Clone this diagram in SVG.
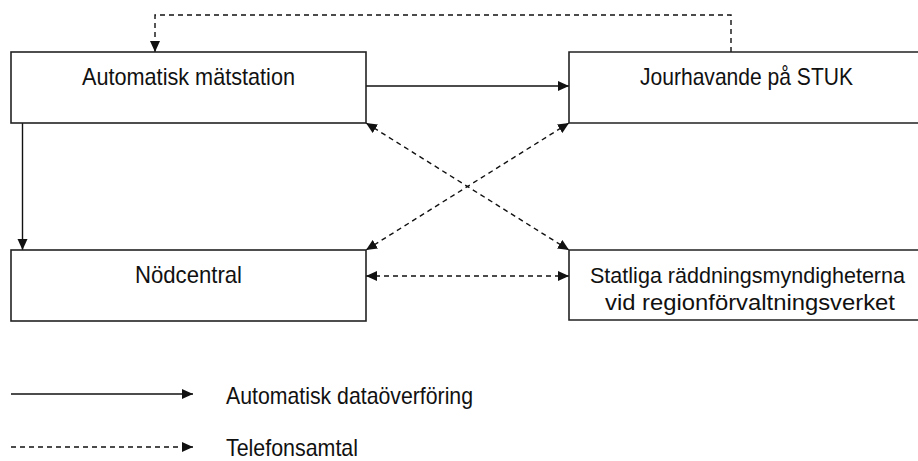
<svg xmlns="http://www.w3.org/2000/svg" width="918" height="461" viewBox="0 0 918 461">
  <style>
    .box { fill: #fff; stroke: #222; stroke-width: 1.6; }
    .fill { fill: #fff; stroke: none; }
    .edge { fill: none; stroke: #222; stroke-width: 1.6; }
    .lbl { font-family: "Liberation Sans", Arial, sans-serif; font-size: 24px; fill: #111; }
    .lbl2 { font-family: "Liberation Sans", Arial, sans-serif; font-size: 22px; fill: #111; }
    .solid { fill: none; stroke: #111; stroke-width: 1.4; }
    .dash { fill: none; stroke: #111; stroke-width: 1.4; stroke-dasharray: 5 4; }
  </style>
  <defs>
    <marker id="ah" markerUnits="userSpaceOnUse" markerWidth="11" markerHeight="11" viewBox="0 0 11 11" refX="11" refY="5.5" orient="auto-start-reverse">
      <path d="M0,0.5 L11,5.5 L0,10.5 z" fill="#111"/>
    </marker>
  </defs>
  <rect width="918" height="461" fill="#fff"/>

  <g id="connectors">
    <path class="dash" d="M731,52 V15 H155 V52" marker-end="url(#ah)"/>
    <path class="solid" d="M366,86 H569" marker-end="url(#ah)"/>
    <path class="solid" d="M22.5,123 V250" marker-end="url(#ah)"/>
    <path class="dash" d="M366,123 L569,250" marker-start="url(#ah)" marker-end="url(#ah)"/>
    <path class="dash" d="M569,123 L366,250" marker-start="url(#ah)" marker-end="url(#ah)"/>
    <path class="dash" d="M366,276 H569" marker-start="url(#ah)" marker-end="url(#ah)"/>
  </g>

  <g id="node-matstation">
    <rect class="box" x="11" y="52" width="355" height="71"/>
    <text class="lbl" x="82" y="85" textLength="213" lengthAdjust="spacingAndGlyphs">Automatisk mätstation</text>
  </g>
  <g id="node-jourhavande">
    <rect class="fill" x="569" y="52" width="349" height="71"/>
    <path class="edge" d="M918,52 H569 V123 H918"/>
    <text class="lbl" x="640" y="85" textLength="213" lengthAdjust="spacingAndGlyphs">Jourhavande på STUK</text>
  </g>
  <g id="node-nodcentral">
    <rect class="box" x="11" y="250" width="355" height="71"/>
    <text class="lbl" x="135" y="283" textLength="107" lengthAdjust="spacingAndGlyphs">Nödcentral</text>
  </g>
  <g id="node-statliga">
    <rect class="fill" x="569" y="250" width="349" height="70"/>
    <path class="edge" d="M918,250 H569 V320 H918"/>
    <text class="lbl2" x="590" y="283" textLength="315" lengthAdjust="spacingAndGlyphs">Statliga räddningsmyndigheterna</text>
    <text class="lbl2" x="605" y="310" textLength="290" lengthAdjust="spacingAndGlyphs">vid regionförvaltningsverket</text>
  </g>

  <g id="legend">
    <path class="solid" d="M11,394 H193" marker-end="url(#ah)"/>
    <text class="lbl" x="226" y="404" textLength="247" lengthAdjust="spacingAndGlyphs">Automatisk dataöverföring</text>
    <path class="dash" d="M11,447 H193" marker-end="url(#ah)"/>
    <text class="lbl" x="226" y="456" textLength="132" lengthAdjust="spacingAndGlyphs">Telefonsamtal</text>
  </g>
</svg>
